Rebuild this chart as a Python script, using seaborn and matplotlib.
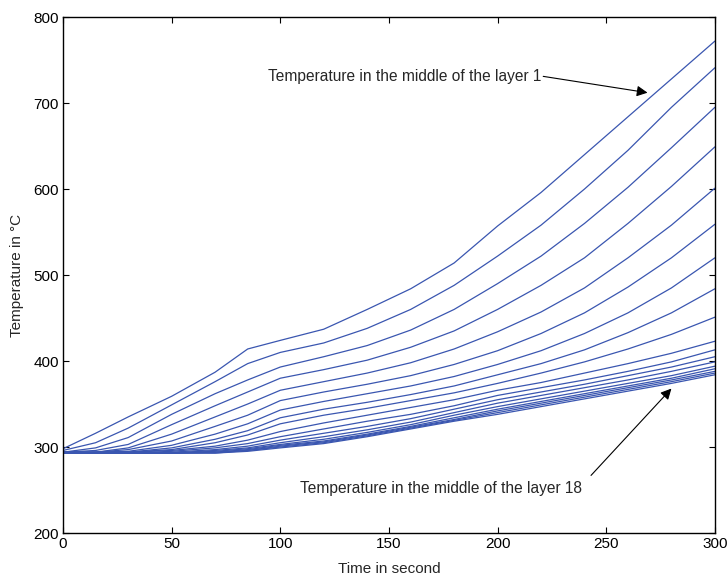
import pandas as pd
import matplotlib
matplotlib.use("Agg")
import matplotlib.pyplot as plt
import seaborn as sns

# time points (s) at which the temperature of each layer is read
time_s = [0, 15, 30, 50, 70, 85, 100, 120, 140, 160, 180, 200, 220, 240, 260, 280, 300]

# temperature (degC) in the middle of each layer, layer 1 (top) .. layer 18
layer_1 = [298, 316, 335, 359, 387, 414, 424, 437, 460, 484, 514, 557, 596, 640, 684, 728, 772]
layer_2 = [296, 305, 322, 349, 376, 397, 410, 421, 438, 460, 488, 522, 558, 600, 645, 695, 741]
layer_3 = [294, 299, 311, 338, 362, 378, 393, 405, 418, 436, 460, 490, 522, 560, 602, 648, 695]
layer_4 = [294, 296, 303, 326, 348, 364, 380, 390, 401, 416, 435, 460, 488, 520, 560, 603, 649]
layer_5 = [294, 294, 299, 315, 335, 350, 366, 376, 386, 398, 414, 434, 457, 485, 520, 558, 601]
layer_6 = [294, 294, 297, 307, 324, 337, 354, 364, 373, 383, 396, 412, 432, 456, 486, 520, 559]
layer_7 = [294, 294, 295, 302, 315, 327, 343, 353, 362, 371, 382, 396, 412, 432, 456, 485, 520]
layer_8 = [294, 294, 294, 299, 309, 319, 334, 344, 352, 361, 371, 384, 397, 413, 433, 456, 484]
layer_9 = [294, 294, 294, 297, 305, 314, 327, 337, 345, 354, 363, 374, 386, 399, 414, 431, 451]
layer_10 = [293, 293, 294, 296, 301, 308, 318, 328, 337, 346, 355, 366, 375, 386, 397, 409, 423]
layer_11 = [293, 293, 293, 295, 299, 304, 312, 321, 330, 338, 348, 360, 369, 378, 388, 399, 413]
layer_12 = [293, 293, 293, 294, 297, 301, 308, 316, 324, 333, 344, 355, 364, 373, 383, 393, 405]
layer_13 = [293, 293, 293, 293, 296, 299, 305, 312, 320, 329, 340, 351, 360, 369, 378, 388, 399]
layer_14 = [293, 293, 293, 293, 295, 298, 303, 309, 317, 326, 337, 347, 356, 365, 374, 383, 394]
layer_15 = [293, 293, 293, 293, 294, 297, 302, 307, 315, 324, 334, 344, 353, 362, 371, 380, 391]
layer_16 = [293, 293, 293, 293, 294, 296, 301, 306, 314, 323, 332, 342, 351, 360, 369, 378, 388]
layer_17 = [293, 293, 293, 293, 293, 296, 300, 305, 313, 322, 331, 340, 349, 358, 367, 376, 386]
layer_18 = [293, 293, 293, 293, 293, 295, 299, 304, 312, 321, 330, 338, 347, 356, 365, 374, 384]

layers = [layer_1, layer_2, layer_3, layer_4, layer_5, layer_6, layer_7, layer_8, layer_9,
          layer_10, layer_11, layer_12, layer_13, layer_14, layer_15, layer_16, layer_17, layer_18]

rows = []
for i, temps in enumerate(layers):
    for t, temp in zip(time_s, temps):
        rows.append({"layer": i + 1, "time": t, "temp": temp})
df = pd.DataFrame(rows)

sns.set_style("ticks")
plt.rcParams["font.family"] = ["Liberation Sans", "DejaVu Sans"]

fig = plt.figure(figsize=(7.28, 5.79), dpi=100)
ax = fig.add_axes([0.0865, 0.0794, 0.8955, 0.8912])

sns.lineplot(data=df, x="time", y="temp", units="layer", estimator=None,
             color="#3a56b0", linewidth=0.9, ax=ax)

ax.set_xlim(0, 300)
ax.set_ylim(200, 800)
ax.set_xticks(range(0, 301, 50))
ax.set_yticks(range(200, 801, 100))
ax.tick_params(direction="in", top=True, right=True, length=4, width=0.8,
               labelsize=11, colors="black", pad=3)
for sp in ax.spines.values():
    sp.set_linewidth(1.0)
    sp.set_color("black")

ax.set_xlabel("Time in second", fontsize=11, labelpad=8)
ax.set_ylabel("Temperature in \u00b0C", fontsize=11, labelpad=7)

# annotations with arrows
ax.text(220, 731, "Temperature in the middle of the layer 1", fontsize=11.2,
        ha="right", va="center")
ax.annotate("", xy=(269, 712), xytext=(221, 731),
            arrowprops=dict(arrowstyle="-|>", color="black", lw=0.8,
                            mutation_scale=16, shrinkA=0, shrinkB=0))

ax.text(174, 252, "Temperature in the middle of the layer 18", fontsize=11.2,
        ha="center", va="center")
ax.annotate("", xy=(280, 368), xytext=(243, 267),
            arrowprops=dict(arrowstyle="-|>", color="black", lw=0.8,
                            mutation_scale=16, shrinkA=0, shrinkB=0))

fig.savefig("out.png", dpi=100)
